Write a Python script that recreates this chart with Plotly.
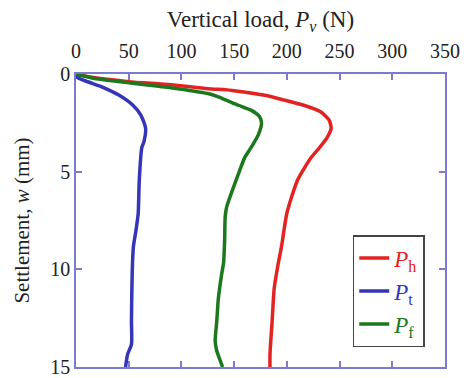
import plotly.graph_objects as go

# Settlement w (mm) and vertical load P (N) for each series
w_h = [0, 0.17, 0.39, 0.55, 0.75, 0.84, 1.09, 1.34, 1.6, 1.93, 2.35, 2.77, 3.27, 3.77, 4.28,
       5.45, 7.13, 8.81, 9.65, 10.97, 12.68, 14.34, 15]
p_h = [0, 15, 50, 90, 125, 148, 179, 198, 216, 232, 240, 242, 238, 231, 223,
       210, 200, 195, 192, 188, 186, 184, 184]

w_t = [0, 0.17, 0.67, 1.09, 1.6, 2.1, 2.77, 3.44, 3.77, 5.45, 7.13, 7.97, 8.81, 9.65,
       10.99, 12.67, 13.84, 14.34, 15]
p_t = [0, 1, 25, 41, 54, 61.5, 66, 64.6, 62.4, 60, 59, 57, 54.5, 53.6,
       53, 52.6, 52.6, 49, 47]

w_f = [0, 0.2, 0.45, 0.7, 1.0, 1.17, 1.6, 1.85, 2.18, 2.52, 3.1, 3.77, 4.28, 5.12, 6.79,
       7.3, 8.47, 9.65, 10.3, 11.5, 12.67, 13.67, 14.17, 14.85, 15]
p_f = [0, 15, 50, 90, 125, 135, 154, 166, 174, 176, 173, 166, 160, 154, 143,
       141.5, 141, 140, 138, 135, 133.5, 132, 133.5, 138, 139]

x_ticks = [0, 50, 100, 150, 200, 250, 300, 350]
y_ticks = [0, 5, 10, 15]

RED = "#e32222"
BLUE = "#3535b8"
GREEN = "#1c781c"
AX = "#7b7bd4"
FONT = "Liberation Serif"

fig = go.Figure()
series = [
    (p_h, w_h, RED, "h"),
    (p_t, w_t, BLUE, "t"),
    (p_f, w_f, GREEN, "f"),
]
for p, w, c, sub in series:
    fig.add_trace(go.Scatter(
        x=p, y=w, mode="lines",
        line=dict(color=c, width=3.5, shape="spline", smoothing=0.6),
        name=f'<span style="color:{c}"><i>P</i><sub>{sub}</sub></span>',
    ))

fig.update_layout(
    width=469, height=378,
    margin=dict(l=76, r=21, t=74, b=9),
    paper_bgcolor="white", plot_bgcolor="white",
    font=dict(family=FONT, size=20, color="#222"),
    showlegend=True,
    legend=dict(
        x=0.75, y=0.45, xanchor="left", yanchor="top",
        bgcolor="white", bordercolor="#444", borderwidth=1.5,
        font=dict(family=FONT, size=23),
        tracegroupgap=0, itemwidth=30, entrywidth=45,
    ),
    xaxis=dict(
        side="top", range=[0, 350], tickvals=x_ticks,
        ticks="inside", ticklen=6, tickcolor=AX, tickwidth=1.5,
        showline=True, linecolor=AX, linewidth=1.5, mirror="ticks",
        showgrid=False, zeroline=False, ticklabelstandoff=6,
        tickfont=dict(family=FONT, size=20),
        title=dict(text="Vertical load, <i>P</i><sub><i>v</i></sub> (N)",
                   font=dict(family=FONT, size=23), standoff=6),
    ),
    yaxis=dict(
        range=[15, 0], tickvals=y_ticks, automargin=False,
        ticks="inside", ticklen=6, tickcolor=AX, tickwidth=1.5,
        showline=True, linecolor=AX, linewidth=1.5, mirror="ticks",
        showgrid=False, zeroline=False, ticklabeloverflow="allow",
        tickfont=dict(family=FONT, size=20),
        title=dict(text="Settlement, <i>w</i> (mm)",
                   font=dict(family=FONT, size=21)),
    ),
)

fig.write_html("out.html")
